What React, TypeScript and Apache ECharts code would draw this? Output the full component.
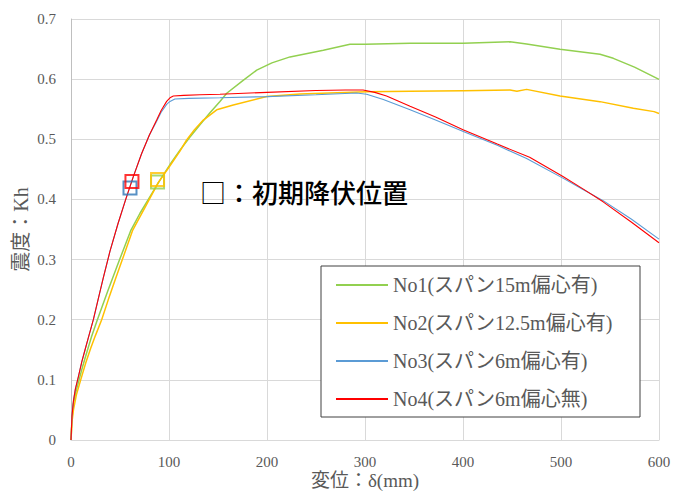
import React, { useEffect, useRef } from "react";
import * as echarts from "echarts";

const seriesNames = [
  "No1(スパン15m偏心有)",
  "No2(スパン12.5m偏心有)",
  "No3(スパン6m偏心有)",
  "No4(スパン6m偏心無)",
];

const no1X = [0, 1, 2.5, 5, 8.2, 12, 16, 21, 26.9, 38, 49.6, 61.2, 70.4, 80, 90.8, 101, 111.2, 121, 131.6, 141.8, 152, 158.9, 175, 189.5, 205, 223.5, 257.5, 284.7, 300, 346, 400.3, 448, 464.9, 499, 539.8, 553.4, 575, 600];
const no1Y = [0, 0.035, 0.06, 0.08, 0.1, 0.123, 0.145, 0.172, 0.2, 0.25, 0.3, 0.349, 0.377, 0.403, 0.432, 0.458, 0.482, 0.503, 0.524, 0.544, 0.563, 0.5765, 0.597, 0.615, 0.627, 0.637, 0.648, 0.658, 0.658, 0.6595, 0.6595, 0.662, 0.6585, 0.6496, 0.6413, 0.6346, 0.62, 0.5997];

const no2X = [0, 1, 2.5, 5.5, 9.9, 15, 20, 25, 31.3, 38, 45, 52.4, 63, 75, 89, 101, 111, 118, 126, 135, 148.7, 165.6, 199.7, 233.7, 301.7, 346, 400.3, 448, 455, 464.9, 499, 539.8, 573.8, 595, 600];
const no2Y = [0, 0.03, 0.05, 0.075, 0.1, 0.128, 0.152, 0.174, 0.2, 0.233, 0.266, 0.3, 0.349, 0.385, 0.428, 0.456, 0.48, 0.4988, 0.516, 0.532, 0.549, 0.557, 0.571, 0.5753, 0.5791, 0.5797, 0.5808, 0.582, 0.58, 0.583, 0.572, 0.5626, 0.5515, 0.546, 0.543];

const no3X = [0, 1, 2.5, 4.5, 7.5, 11, 14, 18, 22.8, 28, 33, 39.8, 48, 56, 63.6, 72, 80, 87.4, 92, 97.6, 101, 106, 120, 152, 200, 250, 291.5, 301.7, 318.7, 346, 372, 400.3, 435, 464.9, 502.4, 522, 543, 572, 600];
const no3Y = [0, 0.04, 0.065, 0.085, 0.105, 0.13, 0.148, 0.172, 0.2, 0.236, 0.27, 0.314, 0.36, 0.401, 0.438, 0.476, 0.507, 0.53, 0.545, 0.558, 0.563, 0.567, 0.568, 0.569, 0.571, 0.574, 0.577, 0.575, 0.566, 0.549, 0.532, 0.513, 0.49, 0.468, 0.435, 0.417, 0.398, 0.367, 0.334];

const no4X = [0, 1, 2.5, 4.5, 7.5, 11, 14, 18, 22.8, 28, 33, 39.8, 48, 56, 63.6, 72, 80, 87.4, 92, 97.6, 101, 104.4, 115, 131.6, 152, 200, 250, 280, 291.5, 298, 310, 322, 346, 372, 400, 435, 468, 502, 522, 543, 572, 600];
const no4Y = [0, 0.04, 0.065, 0.085, 0.105, 0.13, 0.148, 0.172, 0.2, 0.236, 0.27, 0.314, 0.36, 0.401, 0.438, 0.476, 0.507, 0.532, 0.548, 0.563, 0.569, 0.572, 0.573, 0.574, 0.575, 0.578, 0.581, 0.582, 0.582, 0.582, 0.578, 0.572, 0.555, 0.537, 0.516, 0.492, 0.47, 0.438, 0.418, 0.396, 0.362, 0.328];

// initial yield markers [x, y]
const yieldNo1 = [88.3, 0.429];
const yieldNo2 = [88.3, 0.433];
const yieldNo3 = [60.2, 0.419];
const yieldNo4 = [62.2, 0.43];

const lineColors = ["#92D050", "#FFC000", "#5B9BD5", "#FF0000"];
const markerColors = ["#92D050", "#FFC000", "#2E75B6", "#FF0000"];

const annotationText = "□：初期降伏位置";
const xAxisName = "変位：δ(mm)";
const yAxisName = "震度：Kh";

const zip = (xs: number[], ys: number[]) => xs.map((x, i) => [x, ys[i]]);

const serif = "'Liberation Serif', 'DejaVu Serif', 'Noto Sans CJK JP', serif";

export default function App() {
  const ref = useRef<HTMLDivElement>(null);
  useEffect(() => {
    if (!ref.current) return;
    const chart = echarts.init(ref.current, undefined, { renderer: "svg" });
    const lines = [zip(no1X, no1Y), zip(no2X, no2Y), zip(no3X, no3Y), zip(no4X, no4Y)];
    const markers = [yieldNo1, yieldNo2, yieldNo3, yieldNo4];
    const lineSeries = lines.map((d, i) => ({
      name: seriesNames[i],
      type: "line",
      data: d,
      symbol: "none",
      lineStyle: { color: lineColors[i], width: i < 2 ? 1.5 : 1.1 },
      itemStyle: { color: lineColors[i] },
      z: 2,
    }));
    const markerSeries = [0, 1, 2, 3].map((i) => ({
      name: "marker" + i,
      type: "scatter",
      data: [markers[i]],
      symbol: "rect",
      symbolSize: 13,
      itemStyle: { color: "rgba(0,0,0,0)", borderColor: markerColors[i], borderWidth: 2 },
      z: 3,
    }));
    chart.setOption({
      animation: false,
      backgroundColor: "#ffffff",
      grid: { left: 71, right: 14, top: 19, bottom: 52, containLabel: false, outerBoundsMode: "none" },
      xAxis: {
        type: "value",
        min: 0,
        max: 600,
        interval: 100,
        name: xAxisName,
        nameLocation: "middle",
        nameGap: 30,
        nameMoveOverlap: false,
        nameTextStyle: { fontFamily: serif, fontSize: 19, lineHeight: 20, color: "#595959" },
        axisLine: { show: true, lineStyle: { color: "#D9D9D9" } },
        axisTick: { show: false },
        axisLabel: { fontFamily: serif, fontSize: 15, color: "#595959", margin: 14 },
        splitLine: { show: true, lineStyle: { color: "#D9D9D9", width: 1 } },
      },
      yAxis: {
        type: "value",
        min: 0,
        max: 0.7,
        interval: 0.1,
        name: yAxisName,
        nameLocation: "middle",
        nameGap: 40,
        nameMoveOverlap: false,
        nameRotate: 90,
        nameTextStyle: { fontFamily: serif, fontSize: 20, color: "#595959" },
        axisLine: { show: true, lineStyle: { color: "#BFBFBF" } },
        axisTick: { show: false },
        axisLabel: { fontFamily: serif, fontSize: 15, color: "#595959", margin: 15 },
        splitLine: { show: true, lineStyle: { color: "#D9D9D9", width: 1 } },
      },
      legend: {
        data: seriesNames,
        orient: "vertical",
        left: 321,
        top: 266,
        padding: [7, 7, 7, 14],
        itemWidth: 52,
        itemHeight: 14,
        itemGap: 14,
        itemStyle: { opacity: 0 },
        textStyle: { fontFamily: serif, fontSize: 20, color: "#595959", lineHeight: 24 },
        z: 5,
      },
      graphic: [
        {
          type: "rect",
          shape: { x: 321, y: 266, width: 319, height: 151 },
          style: { fill: "#ffffff", stroke: "#404040", lineWidth: 1 },
          z: 4,
        },
        {
          type: "text",
          x: 200,
          y: 191,
          style: {
            text: annotationText,
            font: "500 26px 'Noto Sans CJK JP'",
            fill: "#000000",
            verticalAlign: "middle",
          },
          z: 6,
        },
      ],
      series: [...lineSeries, ...markerSeries],
    });
    return () => chart.dispose();
  }, []);
  return (
    <div
      ref={ref}
      style={{ position: "absolute", left: 0, top: 0, width: 673, height: 492 }}
    />
  );
}
